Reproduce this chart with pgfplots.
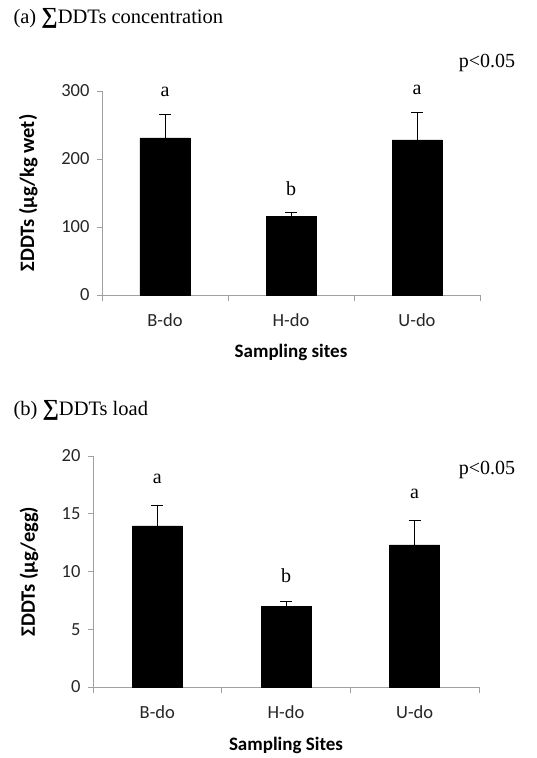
\documentclass[border=0pt]{standalone}
\usepackage{fontspec}
\setmainfont{Liberation Serif}
\newfontfamily\calfont{Carlito}
\usepackage{pgfplots}
\pgfplotsset{compat=1.18}
\definecolor{axgray}{RGB}{160,160,160}

\pgfplotstableread{
x val err
0 231 34
1 116 6
2 228 41
}\conc
\pgfplotstableread{
x val err
0 13.94 1.82
1 7.0 0.45
2 12.3 2.16
}\load

\newcommand{\bigsum}{{\fontsize{23}{22}\selectfont\textbf{∑}}}

\pgfplotsset{
  ddtaxis/.style={
    scale only axis,
    anchor=south west,
    axis lines=left,
    axis line style={axgray, line width=0.8pt, -},
    xmin=-0.5, xmax=2.5, ymin=0,
    xtick={0,1,2},
    xticklabels={B-do,H-do,U-do},
    minor xtick={-0.5,0.5,1.5,2.5},
    major x tick style={draw=none},
    minor x tick style={axgray, line width=0.8pt},
    minor tick length=6pt,
    major tick length=5pt,
    tick align=outside,
    y tick style={axgray, line width=0.8pt},
    ticklabel style={font=\calfont\fontsize{18.5}{20}\selectfont, text=black!85},
    /pgf/number format/assume math mode=true,
    xticklabel style={yshift=-10pt},
    yticklabel style={xshift=-4pt},
    ybar, bar width=50pt,
    clip=false,
  },
}

\begin{document}
\begin{tikzpicture}
\path[use as bounding box] (0,0) rectangle (537pt,758pt);

% Panel (a)
\node[anchor=west, font=\fontsize{20.5}{22}\selectfont] at (10pt,740pt) {(a) \bigsum DDTs concentration};
\begin{axis}[ddtaxis,
  at={(102pt,463pt)}, width=378pt, height=204pt,
  ymax=300, ytick={0,100,200,300},
  xlabel={Sampling sites},
  ylabel={ΣDDTs (μg/kg wet)},
  every axis x label/.style={at={(axis description cs:0.5,0)}, yshift=-57pt, anchor=center, font=\calfont\bfseries\fontsize{19}{20}\selectfont},
  every axis y label/.style={at={(axis description cs:-0.195,0.5)}, rotate=90, anchor=center, font=\calfont\bfseries\fontsize{20.5}{20}\selectfont},
]
\addplot[fill=black, draw=black,
  error bars/.cd, y dir=plus, y explicit,
  error bar style={black, line width=0.8pt},
  error mark options={black, line width=0.8pt, mark size=6pt, rotate=90}]
  table[x=x, y=val, y error=err] {\conc};
\node[font=\fontsize{20}{22}\selectfont] at (axis cs:0,298) {a};
\node[font=\fontsize{20}{22}\selectfont] at (axis cs:1,157) {b};
\node[font=\fontsize{20}{22}\selectfont] at (axis cs:2,302) {a};
\end{axis}
\node[anchor=center, font=\fontsize{20}{22}\selectfont] at (487pt,695pt) {p<0.05};

% Panel (b)
\node[anchor=west, font=\fontsize{20.5}{22}\selectfont] at (10pt,348pt) {(b) \bigsum DDTs load};
\begin{axis}[ddtaxis,
  at={(93pt,71pt)}, width=386pt, height=231pt,
  ymax=20, ytick={0,5,10,15,20},
  xlabel={Sampling Sites},
  ylabel={ΣDDTs (μg/egg)},
  every axis x label/.style={at={(axis description cs:0.5,0)}, yshift=-58pt, anchor=center, font=\calfont\bfseries\fontsize{19}{20}\selectfont},
  every axis y label/.style={at={(axis description cs:-0.166,0.5)}, rotate=90, anchor=center, font=\calfont\bfseries\fontsize{20.5}{20}\selectfont},
]
\addplot[fill=black, draw=black,
  error bars/.cd, y dir=plus, y explicit,
  error bar style={black, line width=0.8pt},
  error mark options={black, line width=0.8pt, mark size=6pt, rotate=90}]
  table[x=x, y=val, y error=err] {\load};
\node[font=\fontsize{20}{22}\selectfont] at (axis cs:0,18.0) {a};
\node[font=\fontsize{20}{22}\selectfont] at (axis cs:1,9.6) {b};
\node[font=\fontsize{20}{22}\selectfont] at (axis cs:2,16.7) {a};
\end{axis}
\node[anchor=center, font=\fontsize{20}{22}\selectfont] at (487pt,288pt) {p<0.05};
\end{tikzpicture}
\end{document}
